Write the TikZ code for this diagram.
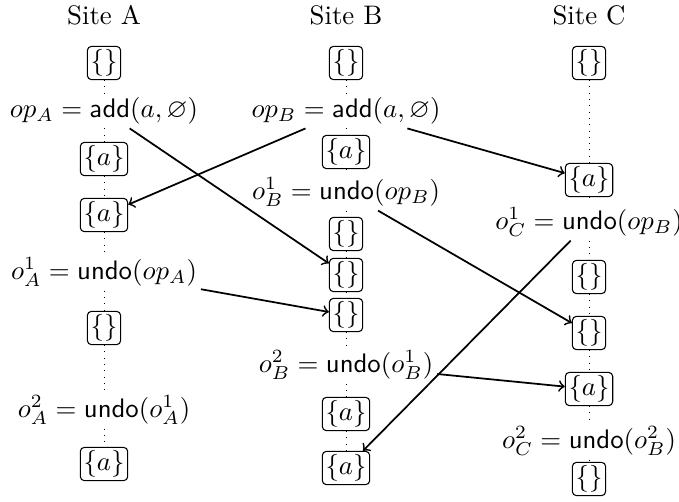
\documentclass[tikz,border=0pt]{standalone}
\usepackage{amssymb}
\begin{document}
\begin{tikzpicture}[x=0.3731pt,y=-0.3731pt,
  state/.style={draw,rounded corners=1.5pt,inner sep=1.2pt,fill=white,line width=0.4pt},
  lab/.style={inner sep=1.3pt,fill=white},
  title/.style={inner sep=1pt},
  msg/.style={->,line width=0.65pt},
  timeline/.style={dotted,line width=0.35pt}]
\useasboundingbox (0,0) rectangle (679,501);

% column titles
\node[title] (tA) at (104,15) {Site A};
\node[title] (tB) at (346,15) {Site B};
\node[title] (tC) at (589,15) {Site C};

% Site A
\node[state] (a0) at (104,63)  {$\{\}$};
\node[lab]   (al1) at (104,111) {$op_A = \mathsf{add}(a, \varnothing)$};
\node[state] (a1) at (104,159) {$\{a\}$};
\node[state] (a2) at (104,215) {$\{a\}$};
\node[lab]   (al2) at (104,272) {$o_A^1 = \mathsf{undo}(op_A)$};
\node[state] (a3) at (104,328) {$\{\}$};
\node[lab]   (al3) at (104,410) {$o_A^2 = \mathsf{undo}(o_A^1)$};
\node[state] (a4) at (104,464) {$\{a\}$};

% Site B
\node[state] (b0) at (346,63)  {$\{\}$};
\node[lab]   (bl1) at (346,111) {$op_B = \mathsf{add}(a, \varnothing)$};
\node[state] (b1) at (346,152) {$\{a\}$};
\node[lab]   (bl2) at (346,192) {$o_B^1 = \mathsf{undo}(op_B)$};
\node[state] (b2) at (346,234) {$\{\}$};
\node[state] (b3) at (346,275) {$\{\}$};
\node[state] (b4) at (346,315) {$\{\}$};
\node[lab]   (bl3) at (346,365) {$o_B^2 = \mathsf{undo}(o_B^1)$};
\node[state] (b5) at (346,414) {$\{a\}$};
\node[state] (b6) at (346,468) {$\{a\}$};

% Site C
\node[state] (c0) at (589,63)  {$\{\}$};
\node[state] (c1) at (589,180) {$\{a\}$};
\node[lab]   (cl1) at (589,222) {$o_C^1 = \mathsf{undo}(op_B)$};
\node[state] (c2) at (589,277) {$\{\}$};
\node[state] (c3) at (589,333) {$\{\}$};
\node[state] (c4) at (589,389) {$\{a\}$};
\node[lab]   (cl2) at (589,441) {$o_C^2 = \mathsf{undo}(o_B^2)$};
\node[state] (c5) at (589,479) {$\{\}$};

% time lines
\draw[timeline] (a0) -- (al1) -- (a1) -- (a2) -- (al2) -- (a3) -- (al3) -- (a4);
\draw[timeline] (b0) -- (bl1) -- (b1) -- (bl2) -- (b2) -- (b3) -- (b4) -- (bl3) -- (b5) -- (b6);
\draw[timeline] (c0) -- (c1) -- (cl1) -- (c2) -- (c3) -- (c4) -- (cl2) -- (c5);

% messages
\draw[msg] (al1) -- (b3);
\draw[msg] (bl1) -- (a2);
\draw[msg] (bl1) -- (c1);
\draw[msg] (bl2) -- (c3);
\draw[msg] (al2) -- (b4);
\draw[msg] (cl1) -- (b6);
\draw[msg] (bl3) -- (c4);
\end{tikzpicture}
\end{document}
